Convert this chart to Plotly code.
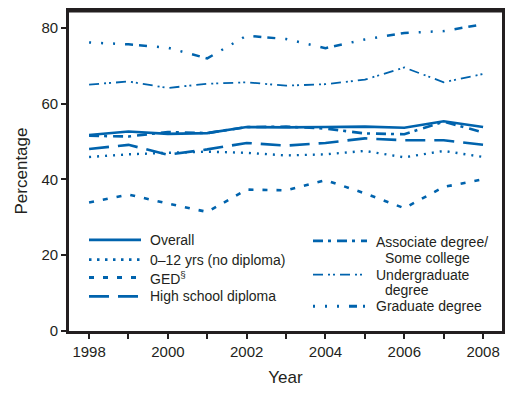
import plotly.graph_objects as go

years = list(range(1998, 2009))
overall = [51.7, 52.6, 52.0, 52.2, 53.8, 53.7, 53.8, 53.9, 53.6, 55.3, 53.8]
no_diploma = [45.9, 46.6, 47.0, 47.3, 47.0, 46.3, 46.6, 47.5, 45.8, 47.5, 45.9]
ged = [33.9, 36.0, 33.6, 31.4, 37.3, 37.1, 39.8, 36.3, 32.4, 38.0, 40.0]
high_school = [48.0, 49.1, 46.5, 47.9, 49.6, 48.9, 49.6, 50.8, 50.3, 50.3, 49.1]
associate = [51.5, 51.3, 52.5, 52.2, 53.8, 53.9, 53.4, 52.1, 51.9, 55.2, 52.4]
undergrad = [65.0, 65.8, 64.1, 65.2, 65.6, 64.7, 65.1, 66.3, 69.5, 65.6, 67.8]
graduate = [76.1, 75.6, 74.7, 71.9, 77.9, 77.0, 74.6, 76.9, 78.6, 79.1, 80.9]

y_tick_vals = [0, 20, 40, 60, 80]

BLUE = "#0063ad"
INK = "#231f20"
FONT = "Liberation Sans, Arial, Helvetica, sans-serif"

series = [
    ("Overall", overall, "solid", 2.6),
    ("0\u201312 yrs (no diploma)", no_diploma, "2px,6px", 2.4),
    ("GED\u00a7", ged, "5px,9px", 2.6),
    ("High school diploma", high_school, "20px,9px", 2.6),
    ("Associate degree/ Some college", associate, "10px,5px,3px,6px", 2.6),
    ("Undergraduate degree", undergrad, "10px,5px,2px,3px,2px,5px", 1.8),
    ("Graduate degree", graduate, "2px,10px,2px,10px,2px,10px,8px,6px,8px,10px", 2.5),
]

fig = go.Figure()
for name, vals, dash, w in series:
    fig.add_trace(go.Scatter(x=years, y=vals, mode="lines", name=name,
                             line=dict(color=BLUE, width=w, dash=dash),
                             showlegend=False))

W, H = 517, 397
L, R, T, B = 69, 502, 8, 331


def px(xp):
    return (xp - L) / (R - L)


def py(yp):
    return (B - yp) / (B - T)


# legend (drawn manually to match the two-column layout)
legend_left = [
    (239, "solid", 2.8, [(148, 239, "Overall")]),
    (259, "2.5px,5.5px", 2.8, [(148, 259, "0\u201312 yrs (no diploma)")]),
    (277, "5px,9px", 2.8, [(148, 277, "GED<sup>\u00a7</sup>")]),
    (296, "20px,9px", 2.8, [(148, 296, "High school diploma")]),
]
legend_right = [
    (240, "10px,5px,3px,6px", 2.8, [(374, 241, "Associate degree/"), (383, 257, "Some college")]),
    (274, "10px,5px,2px,3px,2px,5px", 1.8, [(374, 274, "Undergraduate"), (383, 290, "degree")]),
    (306, "2px,10px,2px,10px,2px,10px,8px,6px", 2.8, [(374, 306, "Graduate degree")]),
]

shapes = []
annotations = []
for items, x0, x1 in [(legend_left, 89, 141), (legend_right, 313, 367)]:
    for yline, dash, w, texts in items:
        shapes.append(dict(type="line", xref="paper", yref="paper",
                           x0=px(x0), x1=px(x1), y0=py(yline), y1=py(yline),
                           line=dict(color=BLUE, width=w, dash=dash)))
        for tx, ty, t in texts:
            annotations.append(dict(xref="paper", yref="paper", x=px(tx), y=py(ty),
                                    xanchor="left", yanchor="middle", text=t,
                                    showarrow=False,
                                    font=dict(size=14, color=INK, family=FONT)))

# top edge of the frame
shapes.append(dict(type="line", xref="paper", yref="paper", x0=0, x1=1, y0=1, y1=1,
                   line=dict(color=INK, width=2.8), layer="above"))

fig.update_layout(
    width=W, height=H,
    margin=dict(l=L, r=W - R, t=T, b=H - B),
    paper_bgcolor="white", plot_bgcolor="white",
    font=dict(family=FONT, color=INK),
    shapes=shapes, annotations=annotations,
    showlegend=False,
)
fig.update_xaxes(range=[1997.49, 2008.48], tick0=1998, dtick=2,
                 ticks="outside", ticklen=5, tickwidth=2, tickcolor=INK,
                 minor=dict(tick0=1998, dtick=1, ticks="outside", ticklen=5,
                            tickwidth=2, tickcolor=INK, showgrid=False),
                 showline=True, linewidth=2.6, linecolor=INK, mirror=True,
                 showgrid=False, zeroline=False,
                 tickfont=dict(size=15, color=INK, family=FONT),
                 title=dict(text="Year", font=dict(size=17, color=INK, family=FONT), standoff=13))
fig.update_yaxes(range=[0, 84.4], tickvals=y_tick_vals,
                 ticks="outside", ticklen=5, tickwidth=2, tickcolor=INK,
                 showline=True, linewidth=2.6, linecolor=INK, mirror=True,
                 showgrid=False, zeroline=False,
                 tickfont=dict(size=15, color=INK, family=FONT),
                 title=dict(text="Percentage", font=dict(size=17, color=INK, family=FONT), standoff=10))

fig.write_html("out.html", config={"displayModeBar": False},
               post_script="document.body.style.margin='0';")
